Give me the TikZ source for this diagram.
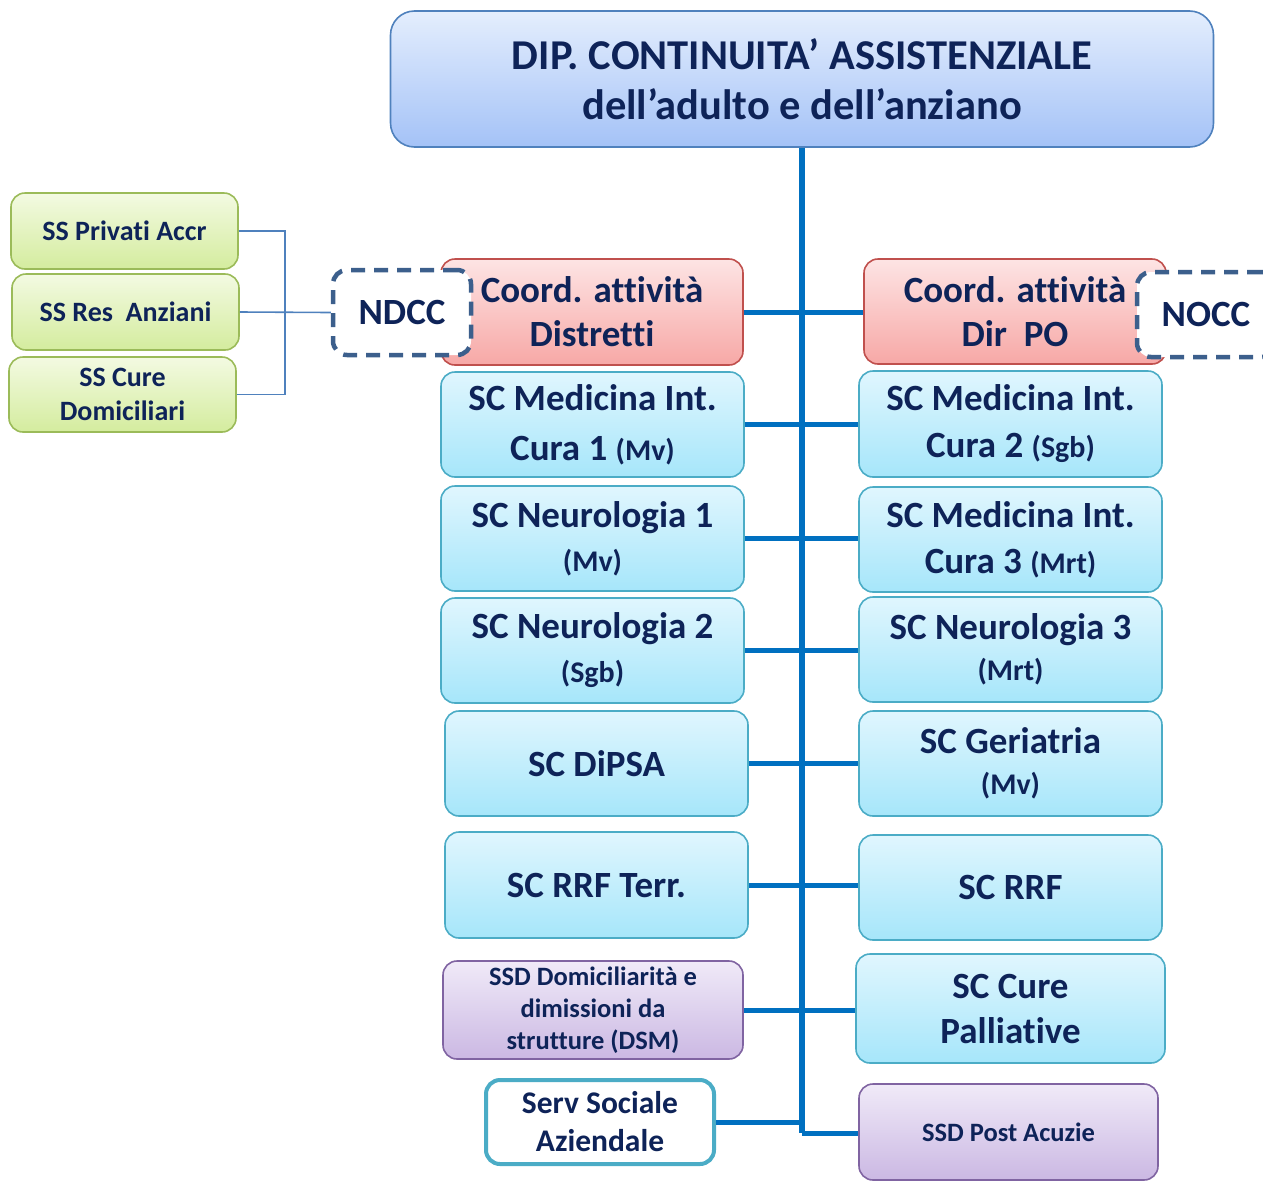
\documentclass[tikz,border=0pt]{standalone}
\usepackage{fontspec}
\setmainfont{Carlito}[Ligatures=NoCommon]
\definecolor{navy}{RGB}{14,35,88}
\definecolor{trunkc}{RGB}{0,112,192}
\definecolor{thinc}{RGB}{79,129,189}
\definecolor{titletop}{RGB}{228,238,253}
\definecolor{titlebot}{RGB}{164,194,247}
\definecolor{titlebd}{RGB}{79,129,189}
\definecolor{bluetop}{RGB}{224,246,254}
\definecolor{bluebot}{RGB}{166,230,250}
\definecolor{bluebd}{RGB}{75,172,198}
\definecolor{pinktop}{RGB}{253,228,228}
\definecolor{pinkbot}{RGB}{247,168,166}
\definecolor{pinkbd}{RGB}{192,80,77}
\definecolor{purtop}{RGB}{240,234,248}
\definecolor{purbot}{RGB}{203,184,227}
\definecolor{purbd}{RGB}{128,100,162}
\definecolor{grntop}{RGB}{243,250,226}
\definecolor{grnbot}{RGB}{212,236,158}
\definecolor{grnbd}{RGB}{155,187,89}
\definecolor{dashc}{RGB}{60,95,140}
\begin{document}
\begin{tikzpicture}[x=1pt,y=-1pt,
  sz/.style 2 args={minimum width=#1pt, minimum height=#2pt},
  box/.style={rounded corners=14pt, line width=1.6pt, inner sep=0pt,
    align=center, text=navy, font=\bfseries\fontsize{37}{44}\selectfont},
  titlebox/.style={box, rounded corners=24pt, draw=titlebd, top color=titletop, bottom color=titlebot,
    font=\bfseries\fontsize{42.5}{50}\selectfont},
  bluebox/.style={box, draw=bluebd, top color=bluetop, bottom color=bluebot},
  pinkbox/.style={box, draw=pinkbd, top color=pinktop, bottom color=pinkbot},
  purbox/.style={box, draw=purbd, top color=purtop, bottom color=purbot,
    font=\bfseries\fontsize{26.5}{32}\selectfont},
  grnbox/.style={box, draw=grnbd, top color=grntop, bottom color=grnbot,
    font=\bfseries\fontsize{28}{34}\selectfont},
  socbox/.style={box, draw=bluebd, fill=white, line width=4pt,
    font=\bfseries\fontsize{31.5}{38}\selectfont},
  dashbox/.style={box, draw=dashc, fill=white, line width=4.5pt,
    dash pattern=on 14pt off 9pt},
  trunk/.style={draw=trunkc, line width=5pt},
  thin/.style={draw=thinc, line width=1.6pt}
]
\useasboundingbox (0,0) rectangle (1263,1181);
\clip (0,0) rectangle (1263,1181);
\newcommand{\sm}[1]{{\fontsize{30}{44}\selectfont #1}}

% department header
\node[titlebox, sz={823}{136}] (title) at (802,79)
  {DIP. CONTINUITA’ ASSISTENZIALE\\dell’adulto e dell’anziano};

% vertical trunk (drawn first, boxes cover the ends)
\coordinate (tb) at (802,1133);
\draw[trunk, line width=6pt] (title.south) -- (tb);

% left column
\node[pinkbox, sz={302}{106}] (cd) at (592,312) {Coord. attività\\Distretti};
\node[bluebox, sz={303}{105}, font=\bfseries\fontsize{37}{50}\selectfont] (l1) at (592.5,424.5)
  {SC Medicina Int.\\Cura 1 \sm{(Mv)}};
\node[bluebox, sz={303}{105}] (l2) at (592.5,538.5) {SC Neurologia 1\\\sm{(Mv)}};
\node[bluebox, sz={303}{105}] (l3) at (592.5,650.5) {SC Neurologia 2\\\sm{(Sgb)}};
\node[bluebox, sz={303}{105}] (l4) at (596.5,763.5) {SC DiPSA};
\node[bluebox, sz={303}{106}] (l5) at (596.5,885) {SC RRF Terr.};
\node[purbox, sz={300}{98}] (l6) at (593,1010) {SSD Domiciliarità e\\dimissioni da\\strutture (DSM)};
\node[socbox, sz={228}{84}] (l7) at (600,1122) {Serv Sociale\\Aziendale};

% right column
\node[pinkbox, sz={302}{105}] (cp) at (1015,311.5) {Coord. attività\\Dir\ \ PO};
\node[bluebox, sz={303}{106}, font=\bfseries\fontsize{37}{47}\selectfont] (r1) at (1010.5,424)
  {SC Medicina Int.\\Cura 2 \sm{(Sgb)}};
\node[bluebox, sz={303}{105}, font=\bfseries\fontsize{37}{46}\selectfont] (r2) at (1010.5,539.5)
  {SC Medicina Int.\\Cura 3 \sm{(Mrt)}};
\node[bluebox, sz={303}{105}, font=\bfseries\fontsize{37}{41}\selectfont] (r3) at (1010.5,649.5)
  {SC Neurologia 3\\\sm{(Mrt)}};
\node[bluebox, sz={303}{105}, font=\bfseries\fontsize{37}{41}\selectfont] (r4) at (1010.5,763.5)
  {SC Geriatria\\\sm{(Mv)}};
\node[bluebox, sz={303}{105}] (r5) at (1010.5,887.5) {SC RRF};
\node[bluebox, sz={309}{109}, font=\bfseries\fontsize{37}{45}\selectfont] (r6) at (1010.5,1008.5)
  {SC Cure\\Palliative};
\node[purbox, sz={299}{96}] (r7) at (1008.5,1132) {SSD Post Acuzie};

% dashed coordination boxes
\node[dashbox, sz={138}{85}] (ndcc) at (402,312.5) {NDCC};
\node[dashbox, sz={138}{85}] (nocc) at (1206,314.5) {NOCC};

% branches from the trunk
\draw[trunk] (cd.east) -- (cp.west |- cd.east);
\draw[trunk] (l1.east) -- (r1.west |- l1.east);
\draw[trunk] (l2.east) -- (r2.west |- l2.east);
\draw[trunk] (l3.east) -- (r3.west |- l3.east);
\draw[trunk] (l4.east) -- (r4.west |- l4.east);
\draw[trunk] (l5.east) -- (r5.west |- l5.east);
\draw[trunk] (l6.east) -- (r6.west |- l6.east);
\draw[trunk] (l7.east) -- (tb |- l7.east);
\draw[trunk] (tb) -- (r7.west |- tb);

% district sub-units
\node[grnbox, sz={227}{76}] (g1) at (124.5,231) {SS Privati Accr};
\node[grnbox, sz={227}{76}] (g2) at (125.5,312) {SS Res\ \ Anziani};
\node[grnbox, sz={227}{75}] (g3) at (122.5,394.5) {SS Cure\\Domiciliari};
\coordinate (gj) at (285,312);
\draw[thin] (g1.east) -- (gj |- g1.east) -- (gj |- g3.east) -- (g3.east);
\draw[thin] (g2.east) -- (ndcc.west);
\end{tikzpicture}
\end{document}
